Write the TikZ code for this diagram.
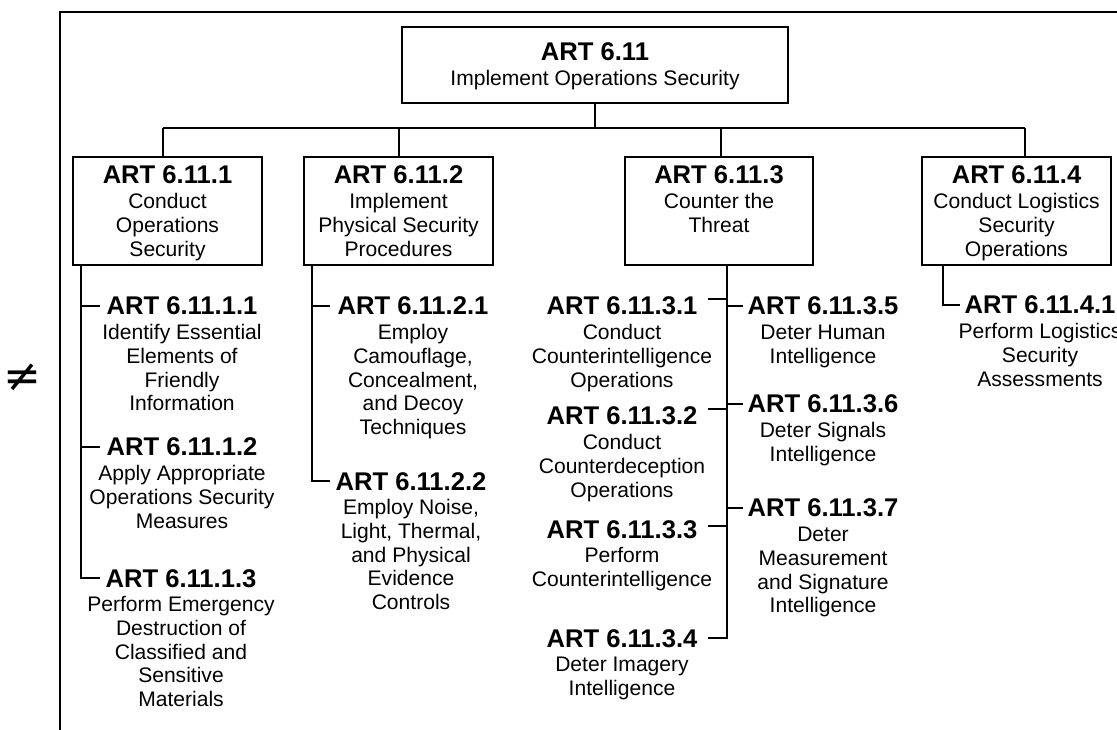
\documentclass[tikz,border=0pt]{standalone}
\usepackage{fontspec}
\setmainfont{Liberation Sans}
\newfontfamily\symfont{DejaVu Sans}
\newcommand\ttlfont{\bfseries\fontsize{19.2}{21}\selectfont}
\newcommand\dscfont{\fontsize{15.8}{17.8}\selectfont}
% one task: bold number, then its description centred below it
\newcommand\artitem[5]{%
  \node[ttl] (#1) at (#2,#3) {#4};
  \node[dsc] (#1d) at (#2,#3+24.5) {\rule{0pt}{13pt}#5};}

\begin{document}
\begin{tikzpicture}[x=0.75pt,y=-0.75pt,
  ttl/.style={anchor=base,inner sep=0pt,font=\ttlfont},
  dsc/.style={anchor=north,yshift=13pt,inner sep=0pt,align=center,font=\dscfont},
  box/.style={draw,line width=1.4pt,inner sep=0pt},
  wire/.style={line width=1.4pt},
  frame/.style={line width=1.9pt}]
\useasboundingbox (0,0) rectangle (1117,730);

% outer frame and margin mark
\draw[frame] (1125,12) -| (60,740);
\node[font=\symfont\fontsize{34}{34}\selectfont,inner sep=0pt] (neq) at (22,378) {≠};

% boxes
\node[box,minimum width=289.5pt,minimum height=57pt] (top) at (595,65) {};
\node[box,minimum width=141.75pt,minimum height=81pt] (b1) at (167.5,211) {};
\node[box,minimum width=141.75pt,minimum height=81pt] (b2) at (398.5,211) {};
\node[box,minimum width=141pt,minimum height=81pt] (b3) at (719,211) {};
\node[box,minimum width=141.75pt,minimum height=81pt] (b4) at (1016.5,211) {};

% texts inside boxes
\artitem{a611}{595}{61}{ART 6.11}{Implement Operations Security}
\artitem{a6111}{167.5}{184}{ART 6.11.1}{Conduct\\Operations\\Security}
\artitem{a6112}{398.5}{184}{ART 6.11.2}{Implement\\Physical Security\\Procedures}
\artitem{a6113}{719}{184}{ART 6.11.3}{Counter the\\Threat}
\artitem{a6114}{1016.5}{184}{ART 6.11.4}{Conduct Logistics\\Security\\Operations}

% third level tasks
\artitem{a61111}{182}{315}{ART 6.11.1.1}{Identify Essential\\Elements of\\Friendly\\Information}
\artitem{a61112}{182}{456}{ART 6.11.1.2}{Apply Appropriate\\Operations Security\\Measures}
\artitem{a61113}{181}{587}{ART 6.11.1.3}{Perform Emergency\\Destruction of\\Classified and\\Sensitive\\Materials}
\artitem{a61121}{413}{315}{ART 6.11.2.1}{Employ\\Camouflage,\\Concealment,\\and Decoy\\Techniques}
\artitem{a61122}{411}{490}{ART 6.11.2.2}{Employ Noise,\\Light, Thermal,\\and Physical\\Evidence\\Controls}
\artitem{a61131}{622}{315}{ART 6.11.3.1}{Conduct\\Counterintelligence\\Operations}
\artitem{a61132}{622}{425}{ART 6.11.3.2}{Conduct\\Counterdeception\\Operations}
\artitem{a61133}{622}{538}{ART 6.11.3.3}{Perform\\Counterintelligence}
\artitem{a61134}{622}{647}{ART 6.11.3.4}{Deter Imagery\\Intelligence}
\artitem{a61135}{823}{315}{ART 6.11.3.5}{Deter Human\\Intelligence}
\artitem{a61136}{823}{413}{ART 6.11.3.6}{Deter Signals\\Intelligence}
\artitem{a61137}{823}{517}{ART 6.11.3.7}{Deter\\Measurement\\and Signature\\Intelligence}
\artitem{a61141}{1040}{314}{ART 6.11.4.1}{Perform Logistics\\Security\\Assessments}

% bus from the top box to the four branches
\coordinate (j1) at (163,128);
\coordinate (j2) at (399,128);
\coordinate (j3) at (721,128);
\coordinate (j4) at (1025,128);
\draw[wire] (top.south) -- (top.south |- j1);
\draw[wire] (j1) -- (j4);
\draw[wire] (j1) -- (j1 |- b1.north);
\draw[wire] (j2) -- (j2 |- b2.north);
\draw[wire] (j3) -- (j3 |- b3.north);
\draw[wire] (j4) -- (j4 |- b4.north);

% spines under the branch boxes
\coordinate (sp1) at (81,300);
\coordinate (sp2) at (312,300);
\coordinate (sp3) at (727,300);
\coordinate (sp4) at (943,300);

\draw[wire] (b1.south -| sp1) -- (sp1 |- a61113.west) -- ++(19,0);
\draw[wire] (sp1 |- a61111.west) -- ++(19,0);
\draw[wire] (sp1 |- a61112.west) -- ++(19,0);

\draw[wire] (b2.south -| sp2) -- (sp2 |- a61122.west) -- ++(18,0);
\draw[wire] (sp2 |- a61121.west) -- ++(18,0);

\coordinate (k1) at ([yshift=5.25pt]a61131.east);
\coordinate (k2) at ([yshift=5.25pt]a61132.east);
\coordinate (k3) at ([yshift=2.25pt]a61133.east);
\draw[wire] (b3.south -| sp3) -- (sp3 |- a61134.east) -- ++(-19,0);
\draw[wire] (sp3 |- k1) -- ++(-19,0);
\draw[wire] (sp3 |- k2) -- ++(-19,0);
\draw[wire] (sp3 |- k3) -- ++(-19,0);
\draw[wire] (sp3 |- a61135.west) -- ++(16,0);
\draw[wire] (sp3 |- a61136.west) -- ++(16,0);
\draw[wire] (sp3 |- a61137.west) -- ++(16,0);

\draw[wire] (b4.south -| sp4) -- (sp4 |- a61141.west) -- ++(17,0);
\end{tikzpicture}
\end{document}
